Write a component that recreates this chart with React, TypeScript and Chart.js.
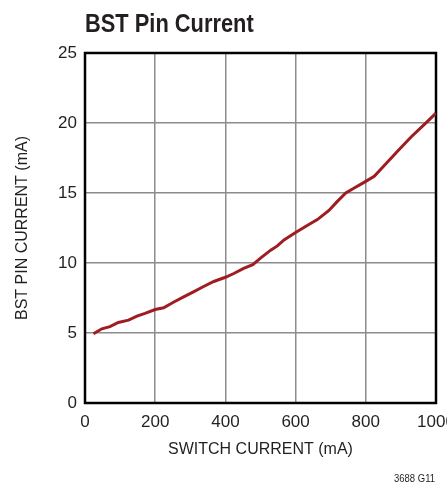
import React, { useEffect, useRef } from 'react';
import { Chart, registerables } from 'chart.js';

Chart.register(...registerables);

const switchCurrent = [24, 48, 71, 95, 124, 148, 171, 200, 224, 252, 281, 309, 338, 367, 400, 424, 452, 478, 500, 529, 548, 567, 600, 633, 662, 695, 719, 743, 767, 795, 824, 852, 891, 929, 967, 1000];
const bstCurrent = [4.95, 5.3, 5.45, 5.75, 5.92, 6.2, 6.4, 6.68, 6.8, 7.2, 7.58, 7.94, 8.32, 8.68, 8.98, 9.25, 9.62, 9.88, 10.35, 10.92, 11.22, 11.65, 12.18, 12.68, 13.1, 13.75, 14.4, 15.0, 15.36, 15.76, 16.2, 16.95, 18.0, 19.0, 19.9, 20.7];
const xTicks = [0, 200, 400, 600, 800, 1000];
const yTicks = [0, 5, 10, 15, 20, 25];

const chartTitle = 'BST Pin Current';
const xTitle = 'SWITCH CURRENT (mA)';
const yTitle = 'BST PIN CURRENT (mA)';
const footnote = '3688 G11';

const FONT = '"Liberation Sans", Arial, sans-serif';

const decorPlugin = {
  id: 'decor',
  beforeDatasetsDraw(chart: any) {
    const { ctx, chartArea } = chart;
    ctx.save();
    ctx.strokeStyle = '#000';
    ctx.lineWidth = 2.5;
    ctx.strokeRect(chartArea.left, chartArea.top, chartArea.right - chartArea.left, chartArea.bottom - chartArea.top);
    ctx.restore();
  },
  afterDraw(chart: any) {
    const { ctx, chartArea } = chart;
    ctx.save();
    ctx.fillStyle = '#231f20';
    ctx.font = `bold 26px ${FONT}`;
    ctx.textAlign = 'left';
    ctx.textBaseline = 'alphabetic';
    ctx.translate(chartArea.left, 32);
    ctx.scale(0.84, 1);
    ctx.fillText(chartTitle, 0, 0);
    ctx.restore();
    ctx.save();
    ctx.fillStyle = '#231f20';
    ctx.font = `10px ${FONT}`;
    ctx.textAlign = 'right';
    ctx.textBaseline = 'middle';
    ctx.translate(435, 479);
    ctx.scale(0.95, 1);
    ctx.fillText(footnote, 0, 0);
    ctx.restore();
  },
};

export default function App() {
  const ref = useRef<HTMLCanvasElement | null>(null);
  useEffect(() => {
    if (!ref.current) return;
    const chart = new Chart(ref.current, {
      type: 'scatter',
      data: {
        datasets: [
          {
            data: switchCurrent.map((x, i) => ({ x, y: bstCurrent[i] })),
            showLine: true,
            borderColor: '#9e1c22',
            backgroundColor: '#9e1c22',
            borderWidth: 3,
            pointRadius: 0,
            tension: 0,
          },
        ],
      },
      options: {
        responsive: false,
        animation: false,
        layout: { padding: { top: 53, right: 34, bottom: 0, left: 0 } },
        plugins: { legend: { display: false }, tooltip: { enabled: false } },
        scales: {
          x: {
            type: 'linear',
            min: 0,
            max: 1000,
            afterBuildTicks: (s: any) => { s.ticks = xTicks.map((v) => ({ value: v })); },
            afterFit: (s: any) => { s.height = 84; },
            grid: { color: '#8c8c8c', lineWidth: 1.5, drawTicks: false },
            border: { display: false },
            ticks: { color: '#231f20', font: { family: FONT, size: 17 }, padding: 9, maxRotation: 0, callback: (v: any) => String(v) },
            title: { display: true, text: xTitle, color: '#231f20', font: { family: FONT, size: 16 }, padding: { top: 0, bottom: 28 } },
          },
          y: {
            type: 'linear',
            min: 0,
            max: 25,
            afterBuildTicks: (s: any) => { s.ticks = yTicks.map((v) => ({ value: v })); },
            afterFit: (s: any) => { s.width = 85; },
            grid: { color: '#8c8c8c', lineWidth: 1.5, drawTicks: false },
            border: { display: false },
            ticks: { color: '#231f20', font: { family: FONT, size: 17 }, padding: 8, callback: (v: any) => String(v) },
            title: { display: true, text: yTitle, color: '#231f20', font: { family: FONT, size: 16 }, padding: { top: 13, bottom: 0 } },
          },
        },
      },
      plugins: [decorPlugin],
    });
    return () => chart.destroy();
  }, []);
  return (
    <div style={{ position: 'absolute', left: 0, top: 0, width: 447, height: 487, overflow: 'hidden', background: '#fff' }}>
      <canvas ref={ref} width={470} height={487} style={{ display: 'block' }} />
    </div>
  );
}
